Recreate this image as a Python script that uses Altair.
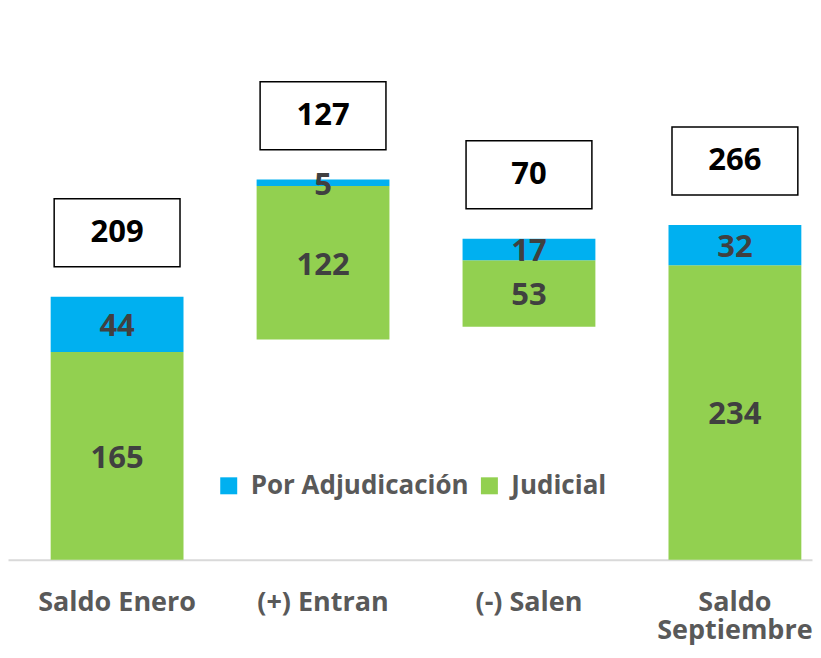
import altair as alt
import pandas as pd

categories = ["Saldo Enero", "(+) Entran", "(-) Salen", "Saldo Septiembre"]
base = [0, 175, 185, 0]
judicial = [165, 122, 53, 234]
adjudicacion = [44, 5, 17, 32]
totals = [209, 127, 70, 266]
series_names = ["Por Adjudicación", "Judicial"]
colors = ["#00B0F0", "#92D050"]

rows = []
for c, b, j, a in zip(categories, base, judicial, adjudicacion):
    rows.append({"cat": c, "serie": "Judicial", "y0": b, "y1": b + j, "val": j})
    rows.append({"cat": c, "serie": "Por Adjudicación", "y0": b + j, "y1": b + j + a, "val": a})
seg = pd.DataFrame(rows)

tot = pd.DataFrame({
    "cat": categories,
    "top": [b + j + a for b, j, a in zip(base, judicial, adjudicacion)],
    "total": totals,
})

FONT = "Open Sans"

xenc = alt.X(
    "cat:N",
    sort=categories,
    scale=alt.Scale(paddingInner=0.355, paddingOuter=0.1295, align=0.8),
    axis=alt.Axis(
        title=None,
        ticks=False,
        tickSize=0,
        domainColor="#d9d9d9",
        domainWidth=2,
        labelFont=FONT,
        labelFontSize=27,
        labelFontWeight="bold",
        labelColor="#595959",
        labelAngle=0,
        labelPadding=30,
        labelLineHeight=28,
        labelLimit=0,
        labelExpr="datum.value == 'Saldo Septiembre' ? ['Saldo', 'Septiembre'] : datum.value",
    ),
)
yscale = alt.Scale(domain=[0, 438], nice=False, zero=True)

bars = alt.Chart(seg).mark_bar().encode(
    x=xenc,
    y=alt.Y("y0:Q", scale=yscale, axis=None),
    y2="y1:Q",
    color=alt.Color(
        "serie:N",
        scale=alt.Scale(domain=series_names, range=colors),
        legend=alt.Legend(
            title=None,
            orient="none",
            legendX=208,
            legendY=465,
            direction="horizontal",
            symbolType="square",
            symbolSize=289,
            symbolStrokeWidth=0,
            labelFont=FONT,
            labelFontSize=26,
            labelFontWeight="bold",
            labelColor="#595959",
            labelOffset=9,
            labelLimit=0,
            columnPadding=7,
        ),
    ),
)

seg_labels = alt.Chart(seg).mark_text(
    font=FONT, fontSize=31, fontWeight="bold", color="#404040", baseline="middle", dy=3
).transform_calculate(mid="(datum.y0 + datum.y1) / 2").encode(
    x=alt.X("cat:N", sort=categories),
    y=alt.Y("mid:Q", scale=yscale),
    text="val:Q",
)

boxes = alt.Chart(tot).mark_point(
    shape="M-1,-0.54L1,-0.54L1,0.54L-1,0.54Z",
    size=15876,
    filled=True,
    fill="white",
    stroke="black",
    strokeWidth=1.5,
    opacity=1,
    yOffset=-64,
).encode(
    x=alt.X("cat:N", sort=categories),
    y=alt.Y("top:Q", scale=yscale),
)

box_labels = alt.Chart(tot).mark_text(
    font=FONT, fontSize=31, fontWeight="bold", color="black", baseline="middle", yOffset=-64
).encode(
    x=alt.X("cat:N", sort=categories),
    y=alt.Y("top:Q", scale=yscale),
    text="total:Q",
)

chart = alt.layer(bars, seg_labels, boxes, box_labels).properties(
    width=805, height=552,
    padding={"left": 0, "top": 0, "right": 0, "bottom": 6},
).configure_view(stroke=None)

chart.save("out.html", embed_options={"renderer": "svg", "actions": False})
